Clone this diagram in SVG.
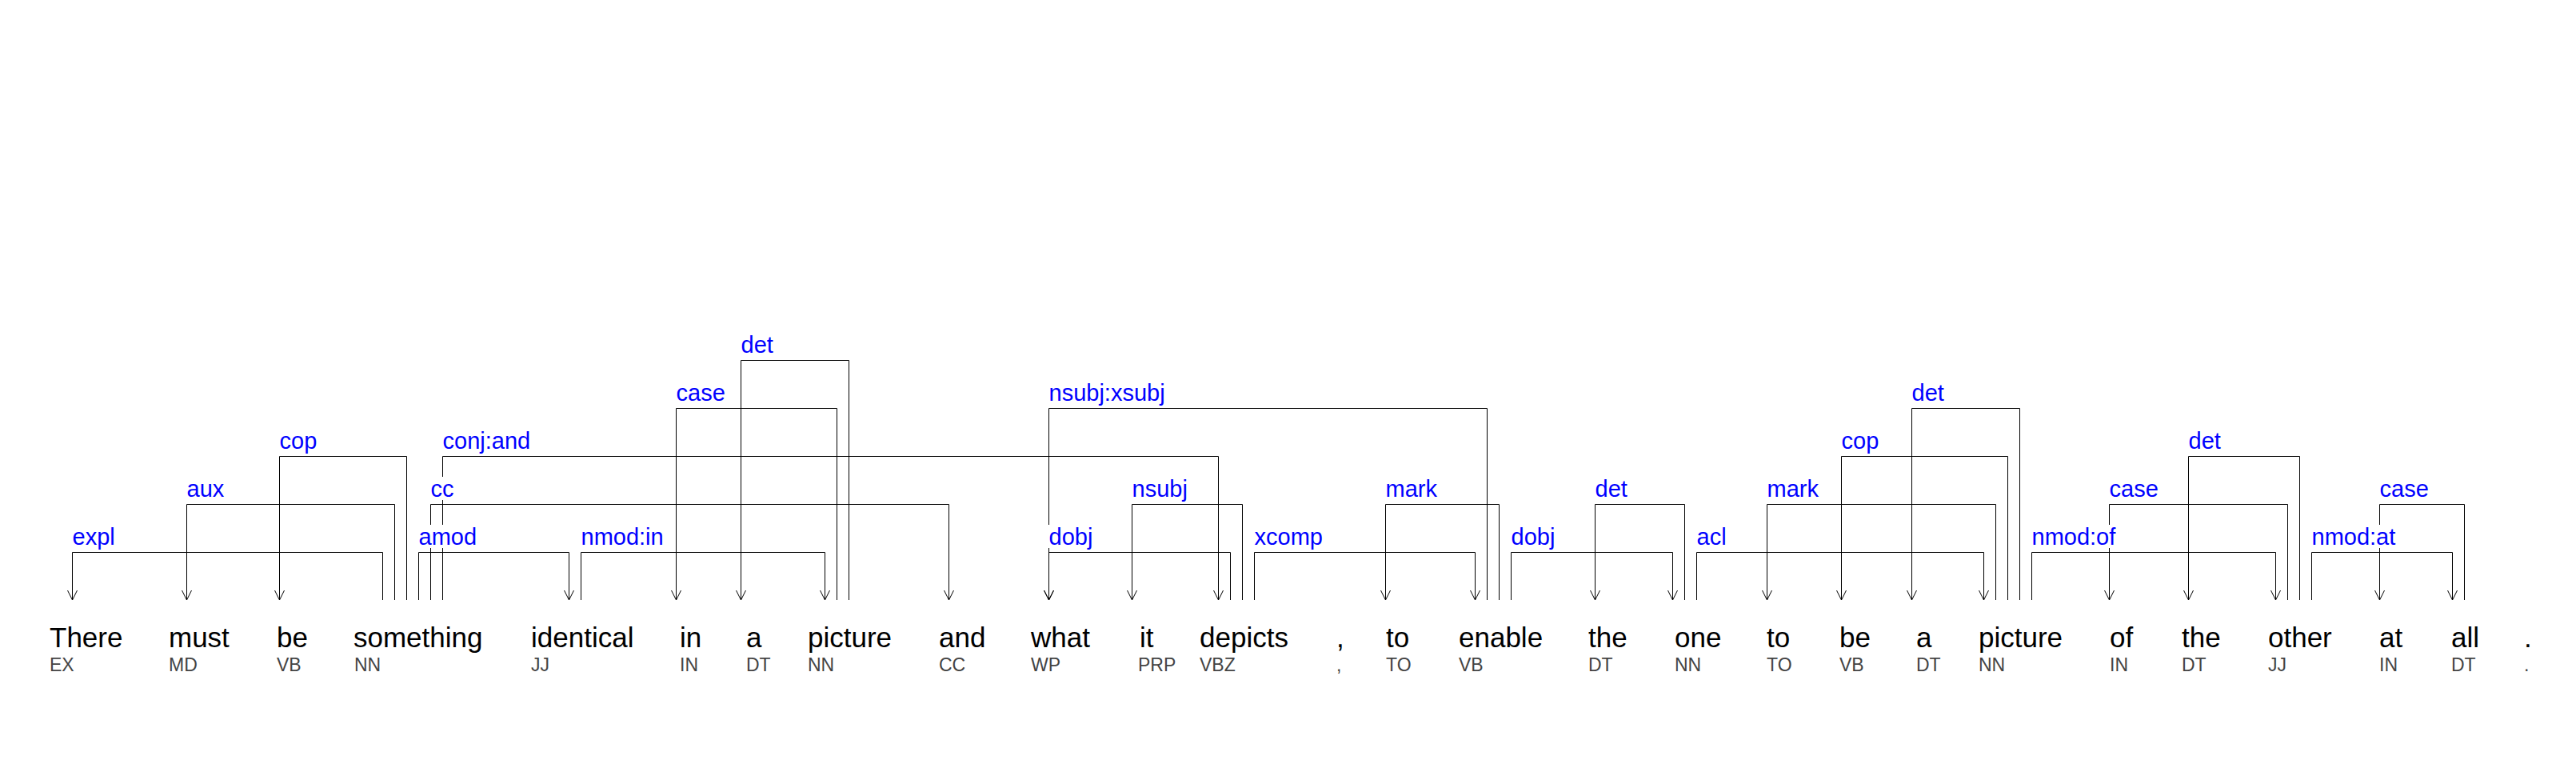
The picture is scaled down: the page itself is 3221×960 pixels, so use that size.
<svg xmlns="http://www.w3.org/2000/svg" width="3221" height="960" viewBox="0 0 3221 960">
<style>
.w{font-family:"Liberation Sans",Arial,sans-serif;font-size:35px;fill:#000}
.p{font-family:"Liberation Sans",Arial,sans-serif;font-size:23px;fill:#444}
.l{font-family:"Liberation Sans",Arial,sans-serif;font-size:29px;fill:#0000ff}
.bg{fill:#fff}
.e{fill:none;stroke:#000;stroke-width:1}
</style>
<defs>
<marker id="ah" markerUnits="userSpaceOnUse" orient="auto" refX="0" refY="0" markerWidth="30" markerHeight="30" viewBox="-15 -15 30 30" overflow="visible">
<path d="M-12,-6 L0,0 L-12,6" fill="none" stroke="#000" stroke-width="1"/>
</marker>
</defs>
<rect width="3221" height="960" fill="#fff"/>
<g id="edges" class="e" marker-end="url(#ah)">
<path d="M478.5,750 V690.5 H90.5 V750"/>
<path d="M493.5,750 V630.5 H233.5 V750"/>
<path d="M508.5,750 V570.5 H349.5 V750"/>
<path d="M523.5,750 V690.5 H711.5 V750"/>
<path d="M538.5,750 V630.5 H1186.5 V750"/>
<path d="M553.5,750 V570.5 H1523.5 V750"/>
<path d="M726.5,750 V690.5 H1031.5 V750"/>
<path d="M1046.5,750 V510.5 H845.5 V750"/>
<path d="M1061.5,750 V450.5 H926.5 V750"/>
<path d="M1859.5,750 V510.5 H1311.5 V750"/>
<path d="M1538.5,750 V690.5 H1311.5 V750"/>
<path d="M1553.5,750 V630.5 H1415.5 V750"/>
<path d="M1568.5,750 V690.5 H1844.5 V750"/>
<path d="M1874.5,750 V630.5 H1732.5 V750"/>
<path d="M1889.5,750 V690.5 H2091.5 V750"/>
<path d="M2106.5,750 V630.5 H1994.5 V750"/>
<path d="M2121.5,750 V690.5 H2480.5 V750"/>
<path d="M2495.5,750 V630.5 H2209.5 V750"/>
<path d="M2510.5,750 V570.5 H2302.5 V750"/>
<path d="M2525.5,750 V510.5 H2390.5 V750"/>
<path d="M2540.5,750 V690.5 H2845.5 V750"/>
<path d="M2860.5,750 V630.5 H2637.5 V750"/>
<path d="M2875.5,750 V570.5 H2736.5 V750"/>
<path d="M2890.5,750 V690.5 H3066.5 V750"/>
<path d="M3081.5,750 V630.5 H2975.5 V750"/>
</g>
<g id="labels">
<rect class="bg" x="89.5" y="656" width="55" height="29"/><text class="l" x="90.5" y="681">expl</text>
<rect class="bg" x="232.5" y="596" width="49" height="29"/><text class="l" x="233.5" y="621">aux</text>
<rect class="bg" x="348.5" y="536" width="49" height="29"/><text class="l" x="349.5" y="561">cop</text>
<rect class="bg" x="522.5" y="656" width="75" height="29"/><text class="l" x="523.5" y="681">amod</text>
<rect class="bg" x="537.5" y="596" width="31" height="29"/><text class="l" x="538.5" y="621">cc</text>
<rect class="bg" x="552.5" y="536" width="112" height="29"/><text class="l" x="553.5" y="561">conj:and</text>
<rect class="bg" x="725.5" y="656" width="105" height="29"/><text class="l" x="726.5" y="681">nmod:in</text>
<rect class="bg" x="844.5" y="476" width="63" height="29"/><text class="l" x="845.5" y="501">case</text>
<rect class="bg" x="925.5" y="416" width="42" height="29"/><text class="l" x="926.5" y="441">det</text>
<rect class="bg" x="1310.5" y="476" width="147" height="29"/><text class="l" x="1311.5" y="501">nsubj:xsubj</text>
<rect class="bg" x="1310.5" y="656" width="57" height="29"/><text class="l" x="1311.5" y="681">dobj</text>
<rect class="bg" x="1414.5" y="596" width="71" height="29"/><text class="l" x="1415.5" y="621">nsubj</text>
<rect class="bg" x="1567.5" y="656" width="87" height="29"/><text class="l" x="1568.5" y="681">xcomp</text>
<rect class="bg" x="1731.5" y="596" width="66" height="29"/><text class="l" x="1732.5" y="621">mark</text>
<rect class="bg" x="1888.5" y="656" width="57" height="29"/><text class="l" x="1889.5" y="681">dobj</text>
<rect class="bg" x="1993.5" y="596" width="42" height="29"/><text class="l" x="1994.5" y="621">det</text>
<rect class="bg" x="2120.5" y="656" width="39" height="29"/><text class="l" x="2121.5" y="681">acl</text>
<rect class="bg" x="2208.5" y="596" width="66" height="29"/><text class="l" x="2209.5" y="621">mark</text>
<rect class="bg" x="2301.5" y="536" width="49" height="29"/><text class="l" x="2302.5" y="561">cop</text>
<rect class="bg" x="2389.5" y="476" width="42" height="29"/><text class="l" x="2390.5" y="501">det</text>
<rect class="bg" x="2539.5" y="656" width="107" height="29"/><text class="l" x="2540.5" y="681">nmod:of</text>
<rect class="bg" x="2636.5" y="596" width="63" height="29"/><text class="l" x="2637.5" y="621">case</text>
<rect class="bg" x="2735.5" y="536" width="42" height="29"/><text class="l" x="2736.5" y="561">det</text>
<rect class="bg" x="2889.5" y="656" width="107" height="29"/><text class="l" x="2890.5" y="681">nmod:at</text>
<rect class="bg" x="2974.5" y="596" width="63" height="29"/><text class="l" x="2975.5" y="621">case</text>
</g>
<g id="w1"><text class="w" x="62" y="809">There</text><text class="p" x="62" y="839">EX</text></g>
<g id="w2"><text class="w" x="211" y="809">must</text><text class="p" x="211" y="839">MD</text></g>
<g id="w3"><text class="w" x="346" y="809">be</text><text class="p" x="346" y="839">VB</text></g>
<g id="w4"><text class="w" x="442" y="809">something</text><text class="p" x="443" y="839">NN</text></g>
<g id="w5"><text class="w" x="664" y="809">identical</text><text class="p" x="664" y="839">JJ</text></g>
<g id="w6"><text class="w" x="850" y="809">in</text><text class="p" x="850" y="839">IN</text></g>
<g id="w7"><text class="w" x="933" y="809">a</text><text class="p" x="933" y="839">DT</text></g>
<g id="w8"><text class="w" x="1010" y="809">picture</text><text class="p" x="1010" y="839">NN</text></g>
<g id="w9"><text class="w" x="1174" y="809">and</text><text class="p" x="1174" y="839">CC</text></g>
<g id="w10"><text class="w" x="1289" y="809">what</text><text class="p" x="1289" y="839">WP</text></g>
<g id="w11"><text class="w" x="1425" y="809">it</text><text class="p" x="1423" y="839">PRP</text></g>
<g id="w12"><text class="w" x="1500" y="809">depicts</text><text class="p" x="1500" y="839">VBZ</text></g>
<g id="w13"><text class="w" x="1671" y="809">,</text><text class="p" x="1671" y="839">,</text></g>
<g id="w14"><text class="w" x="1733" y="809">to</text><text class="p" x="1733" y="839">TO</text></g>
<g id="w15"><text class="w" x="1824" y="809">enable</text><text class="p" x="1824" y="839">VB</text></g>
<g id="w16"><text class="w" x="1986" y="809">the</text><text class="p" x="1986" y="839">DT</text></g>
<g id="w17"><text class="w" x="2094" y="809">one</text><text class="p" x="2094" y="839">NN</text></g>
<g id="w18"><text class="w" x="2209" y="809">to</text><text class="p" x="2209" y="839">TO</text></g>
<g id="w19"><text class="w" x="2300" y="809">be</text><text class="p" x="2300" y="839">VB</text></g>
<g id="w20"><text class="w" x="2396" y="809">a</text><text class="p" x="2396" y="839">DT</text></g>
<g id="w21"><text class="w" x="2474" y="809">picture</text><text class="p" x="2474" y="839">NN</text></g>
<g id="w22"><text class="w" x="2638" y="809">of</text><text class="p" x="2638" y="839">IN</text></g>
<g id="w23"><text class="w" x="2728" y="809">the</text><text class="p" x="2728" y="839">DT</text></g>
<g id="w24"><text class="w" x="2836" y="809">other</text><text class="p" x="2836" y="839">JJ</text></g>
<g id="w25"><text class="w" x="2975" y="809">at</text><text class="p" x="2975" y="839">IN</text></g>
<g id="w26"><text class="w" x="3065" y="809">all</text><text class="p" x="3065" y="839">DT</text></g>
<g id="w27"><text class="w" x="3156" y="809">.</text><text class="p" x="3156" y="839">.</text></g>
</svg>
